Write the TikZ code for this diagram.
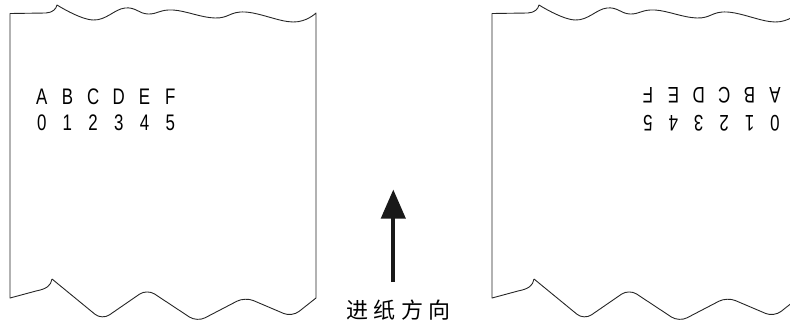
\documentclass[tikz,border=0pt]{standalone}
\usepackage{fontspec}
\setmainfont{Liberation Sans}
\newfontfamily\cjkfont{Noto Sans CJK SC}
\usetikzlibrary{arrows.meta}

\tikzset{
  paperedge/.style={line width=0.9pt, black!85, line join=round},
  glyph/.style={inner sep=0pt, xscale=0.75, font=\fontsize{22.5}{24}\selectfont},
  feedarrow/.style={line width=4pt, black!90, -{Triangle[length=29pt, width=24pt]}},
  feedtext/.style={inner sep=0pt, font=\cjkfont\fontsize{22}{24}\selectfont}
}

\begin{document}
\begin{tikzpicture}[x=1pt, y=-1pt]
        \useasboundingbox (0,0) rectangle (790,327);
        \clip (0,0) rectangle (790,327);

        % left strip
        \draw [paperedge] (52,279) .. controls (51,286) and (46,289) .. (36,291) -- (10,298)
              -- (10,13.5) -- (46,13) .. controls (53,12.5) and (56,9) .. (57,5)
              -- plot [smooth, tension=0.7] coordinates {(57,5) (93,20) (125,8) (148,14) (173,10) (215,18) (245,12) (293,22) (316,13)}
              -- (316,298);                                                   % sides + top
        \draw [paperedge, rounded corners=9pt] (52,279) -- (102,320) -- (147,289) -- (197,322)
              -- (245,297) -- (292,317) -- (316,298);                         % torn bottom

        % right strip
        \draw [paperedge, xshift=482pt] (52,279) .. controls (51,286) and (46,289) .. (36,291) -- (10,298)
              -- (10,13.5) -- (46,13) .. controls (53,12.5) and (56,9) .. (57,5)
              -- plot [smooth, tension=0.7] coordinates {(57,5) (93,20) (125,8) (148,14) (173,10) (215,18) (245,12) (293,22) (316,13)}
              -- (316,298);                                                   % sides + top
        \draw [paperedge, xshift=482pt, rounded corners=9pt] (52,279) -- (102,320) -- (147,289) -- (197,322)
              -- (245,297) -- (292,317) -- (316,298);                         % torn bottom

        % printed text, normal
        \foreach \ch [count=\i from 0] in {A,B,C,D,E,F}
          \node [glyph] (la\i) at (41.7+25.7*\i, 96.3) {\ch};
        \foreach \ch [count=\i from 0] in {0,1,2,3,4,5}
          \node [glyph] (ln\i) at (41.7+25.7*\i, 122.7) {\ch};

        % printed text, upside down
        \foreach \ch [count=\i from 0] in {A,B,C,D,E,F}
          \node [glyph, rotate=180] (ra\i) at (775-25.4*\i, 95) {\ch};
        \foreach \ch [count=\i from 0] in {0,1,2,3,4,5}
          \node [glyph, rotate=180] (rn\i) at (775-25.4*\i, 123.3) {\ch};

        % feed direction
        \coordinate (feedtail) at (393.3,282);
        \coordinate (feedtip)  at (393.3,189.5);
        \draw [feedarrow] (feedtail) -- (feedtip);
        \node [feedtext] (feedlabel) at (398.3,310) {进\hspace{5.5pt}纸\hspace{5.5pt}方\hspace{5.5pt}向};
      \end{tikzpicture}
\end{document}
